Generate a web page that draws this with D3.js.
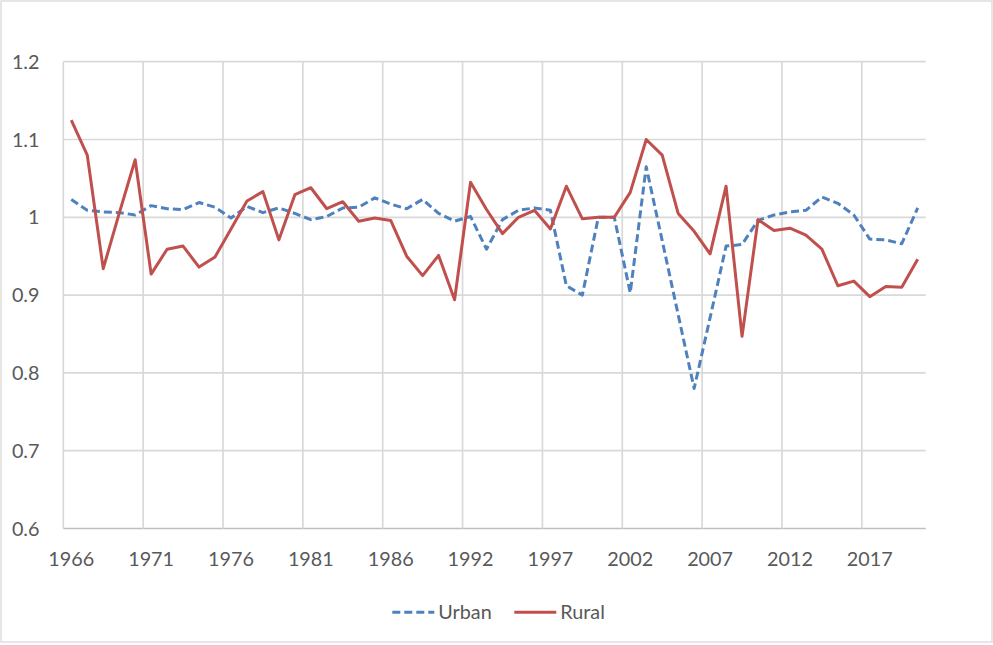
<!DOCTYPE html>
<html>
<head>
<meta charset="utf-8">
<script src="https://cdn.jsdelivr.net/npm/d3@7"></script>
<style>
  body { margin: 0; background: #fff; }
  text { font-family: Lato, "Open Sans", sans-serif; fill: #595959; }
</style>
</head>
<body>
<svg width="993" height="645"></svg>
<script>
// one year (1991) is missing from the series
const years = d3.range(1966, 1991).concat(d3.range(1992, 2021));

const urban = [
  1.023, 1.009, 1.007, 1.006, 1.003, 1.015, 1.011, 1.010, 1.019, 1.013,
  0.999, 1.014, 1.006, 1.012, 1.005, 0.997, 1.001, 1.012, 1.013, 1.025,
  1.017, 1.011, 1.023, 1.005, 0.995, 1.001, 0.959, 0.997, 1.009, 1.012,
  1.009, 0.912, 0.900, 1.000, 1.000, 0.903, 1.065, 0.970, 0.875, 0.780,
  0.871, 0.963, 0.965, 0.996, 1.003, 1.007, 1.009, 1.026, 1.018, 1.003,
  0.972, 0.971, 0.966, 1.012
];

const rural = [
  1.125, 1.080, 0.934, 1.005, 1.074, 0.927, 0.959, 0.963, 0.936, 0.949,
  0.985, 1.021, 1.033, 0.971, 1.029, 1.038, 1.011, 1.020, 0.995, 0.999,
  0.996, 0.950, 0.925, 0.951, 0.894, 1.045, 1.010, 0.979, 1.000, 1.009,
  0.985, 1.040, 0.998, 1.000, 1.000, 1.032, 1.100, 1.080, 1.005, 0.982,
  0.953, 1.040, 0.847, 0.997, 0.983, 0.986, 0.977, 0.959, 0.912, 0.918,
  0.898, 0.911, 0.910, 0.946
];

const yTicks = [0.6, 0.7, 0.8, 0.9, 1.0, 1.1, 1.2];

const svg = d3.select('svg');
const width = +svg.attr('width');
const height = +svg.attr('height');

const plotLeft = 63.3, plotRight = 925.7, plotTop = 61.7, plotBottom = 528.5;
const fontSize = 19.8;

// chart border
svg.append('rect')
  .attr('x', 1).attr('y', 1)
  .attr('width', width - 2).attr('height', height - 4)
  .attr('fill', 'none')
  .attr('stroke', '#d9d9d9')
  .attr('stroke-width', 1.3);

const x = d3.scaleBand()
  .domain(years)
  .range([plotLeft, plotRight]);

const y = d3.scaleLinear()
  .domain([0.6, 1.2])
  .range([plotBottom, plotTop]);

const cx = d => x(d) + x.bandwidth() / 2;

// horizontal gridlines
svg.append('g')
  .selectAll('line')
  .data(yTicks)
  .join('line')
  .attr('x1', plotLeft).attr('x2', plotRight)
  .attr('y1', d => y(d)).attr('y2', d => y(d))
  .attr('stroke', d => d === 0.6 ? '#bfbfbf' : '#d9d9d9')
  .attr('stroke-width', 1.7);

// vertical gridlines every 5 categories
const labelYears = years.filter((d, i) => i % 5 === 0);

svg.append('g')
  .selectAll('line')
  .data(labelYears)
  .join('line')
  .attr('x1', d => x(d)).attr('x2', d => x(d))
  .attr('y1', plotTop).attr('y2', plotBottom)
  .attr('stroke', '#d9d9d9')
  .attr('stroke-width', 1.7);

// y labels
svg.append('g')
  .selectAll('text')
  .data(yTicks)
  .join('text')
  .attr('x', 39.5)
  .attr('y', d => y(d))
  .attr('dy', '0.36em')
  .attr('text-anchor', 'end')
  .attr('font-size', fontSize)
  .text(d => String(+d.toFixed(1)));

// x labels
svg.append('g')
  .selectAll('text')
  .data(labelYears)
  .join('text')
  .attr('x', d => cx(d))
  .attr('y', 566)
  .attr('text-anchor', 'middle')
  .attr('font-size', fontSize)
  .text(d => d);

const line = d3.line()
  .x((d, i) => cx(years[i]))
  .y(d => y(d));

svg.append('path')
  .datum(urban)
  .attr('d', line)
  .attr('fill', 'none')
  .attr('stroke', '#4f81bd')
  .attr('stroke-width', 3)
  .attr('stroke-dasharray', '8,4')
  .attr('stroke-linejoin', 'round');

svg.append('path')
  .datum(rural)
  .attr('d', line)
  .attr('fill', 'none')
  .attr('stroke', '#c0504d')
  .attr('stroke-width', 3)
  .attr('stroke-linejoin', 'round');

// legend
const legendY = 612.3;
const legend = [
  { name: 'Urban', color: '#4f81bd', dash: '8,4', x: 392.3 },
  { name: 'Rural', color: '#c0504d', dash: null, x: 514.3 }
];

const lg = svg.append('g')
  .selectAll('g')
  .data(legend)
  .join('g')
  .attr('transform', d => `translate(${d.x},${legendY})`);

lg.append('line')
  .attr('x1', 0).attr('x2', 42)
  .attr('stroke', d => d.color)
  .attr('stroke-width', 3)
  .attr('stroke-dasharray', d => d.dash);

lg.append('text')
  .attr('x', 46)
  .attr('dy', '0.36em')
  .attr('font-size', fontSize)
  .text(d => d.name);
</script>
</body>
</html>
